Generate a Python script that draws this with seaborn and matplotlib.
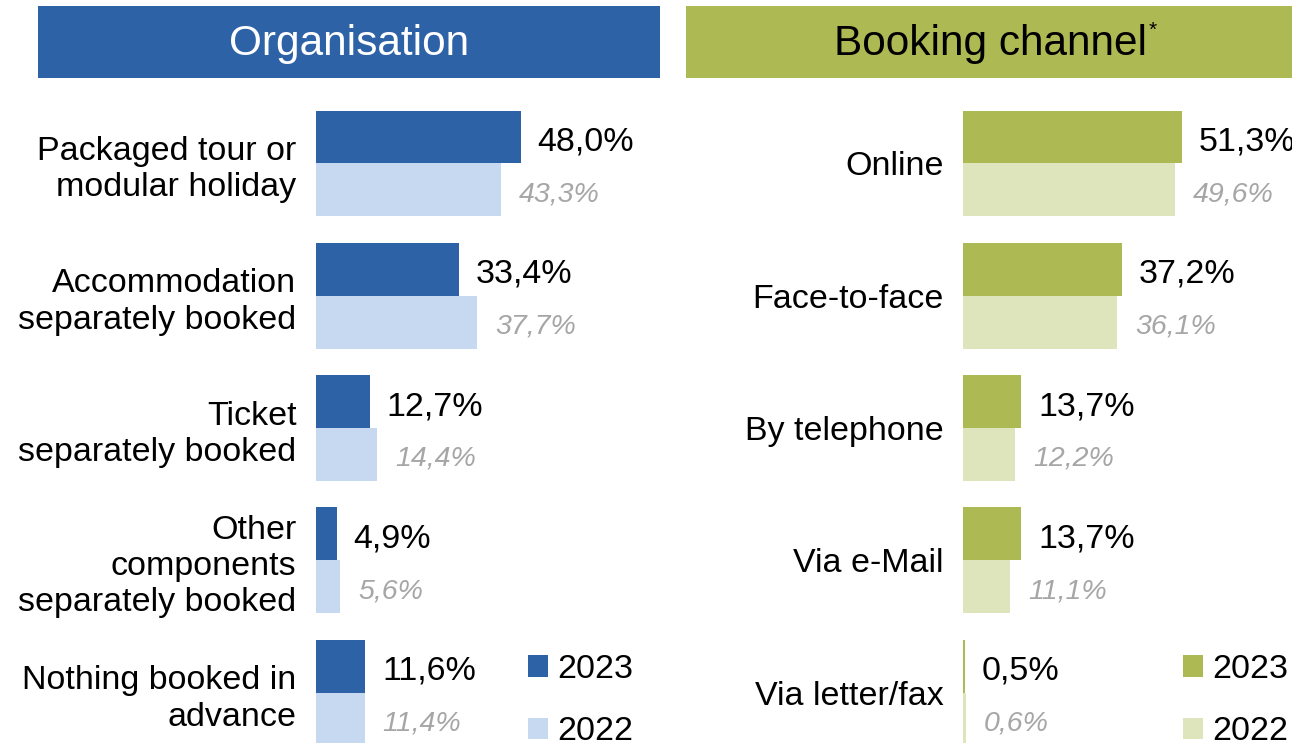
import pandas as pd
import seaborn as sns
import matplotlib.pyplot as plt
from matplotlib.patches import Rectangle

# data
org_categories = ["Packaged tour or\nmodular holiday", "Accommodation\nseparately booked",
                  "Ticket\nseparately booked", "Other\ncomponents\nseparately booked",
                  "Nothing booked in\nadvance"]
org_2023 = [48.0, 33.4, 12.7, 4.9, 11.6]
org_2022 = [43.3, 37.7, 14.4, 5.6, 11.4]

channel_categories = ["Online", "Face-to-face", "By telephone", "Via e-Mail", "Via letter/fax"]
channel_2023 = [51.3, 37.2, 13.7, 13.7, 0.5]
channel_2022 = [49.6, 36.1, 12.2, 11.1, 0.6]

years = ["2023", "2022"]

BLUE = "#2E62A7"
LIGHT_BLUE = "#C6D9F0"
GREEN = "#ADB952"
LIGHT_GREEN = "#DEE4BC"

sns.set_theme(style="white")
plt.rcParams["font.family"] = ["Liberation Sans", "DejaVu Sans"]

W, H = 1292, 743
fig = plt.figure(figsize=(W / 100, H / 100), dpi=100)


def px_rect(x0, y0, x1, y1):
    # pixel box (top-left origin) -> figure fraction [left, bottom, width, height]
    return [x0 / W, 1 - y1 / H, (x1 - x0) / W, (y1 - y0) / H]


def long_df(cats, v23, v22):
    rows = []
    for c, a, b in zip(cats, v23, v22):
        rows.append({"category": c, "year": years[0], "value": a})
        rows.append({"category": c, "year": years[1], "value": b})
    return pd.DataFrame(rows)


def fmt(v):
    return f"{v:.1f}%".replace(".", ",")


def panel(x_left, cats, v23, v22, dark, light, legend_x):
    ax = fig.add_axes(px_rect(x_left, 98, x_left + 256, 743))
    df = long_df(cats, v23, v22)
    sns.barplot(data=df, y="category", x="value", hue="year", orient="h",
                palette=[dark, light], width=0.8, ax=ax, saturation=1, linewidth=0)
    ax.set_xlim(0, 60)
    ax.set_ylim(4.38, -0.495)
    ax.set_xlabel("")
    ax.set_ylabel("")
    ax.set_xticks([])
    ax.tick_params(axis="y", length=0, pad=14, labelsize=24.5, labelcolor="black")
    for lab in ax.get_yticklabels():
        lab.set_linespacing(1.22)
        lab.set_horizontalalignment("right")
    sns.despine(ax=ax, left=True, bottom=True)

    c23, c22 = ax.containers[0], ax.containers[1]
    for ann in ax.bar_label(c23, labels=[fmt(v) for v in v23], padding=12, fontsize=24.5,
                            color="black", clip_on=False):
        ann.xyann = (12, -3.5)
    for ann in ax.bar_label(c22, labels=[fmt(v) for v in v22], padding=13, fontsize=20.5,
                            color="#A6A6A6", style="italic", clip_on=False):
        ann.xyann = (13, -3)

    handles, labels = ax.get_legend_handles_labels()
    ax.legend(handles, labels, loc="upper left", frameon=False,
              bbox_to_anchor=(legend_x / W, 1 - 654 / H), bbox_transform=fig.transFigure,
              fontsize=24.5, handlelength=0.6, handleheight=0.6, handletextpad=0.25,
              labelspacing=0.92, borderpad=0, borderaxespad=0, labelcolor="black")
    return ax


panel(316, org_categories, org_2023, org_2022, BLUE, LIGHT_BLUE, 528)
panel(963, channel_categories, channel_2023, channel_2022, GREEN, LIGHT_GREEN, 1183)

# header boxes
fig.add_artist(Rectangle((38 / W, 1 - 78 / H), (660 - 38) / W, 72 / H,
                         transform=fig.transFigure, facecolor=BLUE, edgecolor="none"))
fig.add_artist(Rectangle((686 / W, 1 - 78 / H), (1292 - 686) / W, 72 / H,
                         transform=fig.transFigure, facecolor=GREEN, edgecolor="none"))
fig.text(349 / W, 1 - 44 / H, "Organisation", color="white", fontsize=30.5,
         ha="center", va="center")
fig.text(991 / W, 1 - 44 / H, "Booking channel", color="black", fontsize=30.5,
         ha="center", va="center")
fig.text(1149 / W, 1 - 30 / H, "*", color="black", fontsize=15,
         ha="left", va="center")

fig.savefig("out.png", dpi=100)
